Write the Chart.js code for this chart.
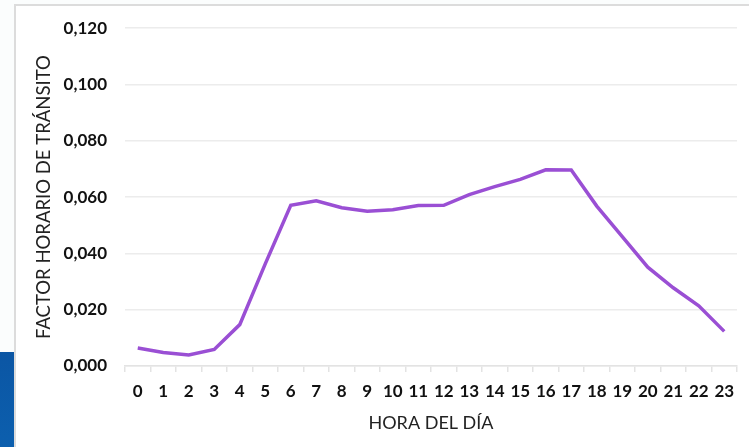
<!DOCTYPE html>
<html>
<head>
<meta charset="utf-8">
<script src="https://cdn.jsdelivr.net/npm/chart.js@4/dist/chart.umd.min.js"></script>
<style>
  html, body { margin: 0; padding: 0; background: #fff; }
  #wrap { position: relative; width: 749px; height: 447px; overflow: hidden; background: #fbfdfd; }
  /* marco del panel */
  #panel { position: absolute; left: 14px; top: 4px; width: 740px; height: 450px; background: #fff;
           border-top: 2px solid #dcdcdc; border-left: 2px solid #dcdcdc; }
  #azul { position: absolute; left: 0; top: 352px; width: 14px; height: 95px;
          background: linear-gradient(#0b56a4, #0c5fae); }
  #c { position: absolute; left: 0; top: 0; }
</style>
</head>
<body>
<div id="wrap">
  <div id="azul"></div>
  <div id="panel"></div>
  <canvas id="c" width="749" height="447"></canvas>
</div>
<script>
const horas = ['0','1','2','3','4','5','6','7','8','9','10','11','12','13','14','15','16','17','18','19','20','21','22','23'];
const factorHorario = [0.0064, 0.0048, 0.0039, 0.0059, 0.0147, 0.0363, 0.0571, 0.0587, 0.0562, 0.0550, 0.0555, 0.0570,
                       0.0571, 0.0609, 0.0637, 0.0663, 0.0697, 0.0696, 0.0568, 0.0460, 0.0351, 0.0278, 0.0214, 0.0123];
const ticksY = [0, 0.02, 0.04, 0.06, 0.08, 0.10, 0.12];

const fuente = 'Lato, "Open Sans", sans-serif';

new Chart(document.getElementById('c'), {
  type: 'line',
  data: {
    labels: horas,
    datasets: [{
      data: factorHorario,
      borderColor: '#9a4fd4',
      borderWidth: 3.5,
      pointRadius: 0,
      tension: 0,
      fill: false
    }]
  },
  options: {
    responsive: false,
    animation: false,
    layout: { padding: { left: 33, top: 24, right: 12, bottom: 8 } },
    plugins: { legend: { display: false }, tooltip: { enabled: false } },
    scales: {
      x: {
        offset: true,
        grid: { offset: true, drawOnChartArea: false, tickLength: 6, color: '#e3e3e3', lineWidth: 1.5 },
        border: { color: '#e3e3e3', width: 1.5 },
        ticks: { color: '#111', padding: 9, maxRotation: 0, autoSkip: false,
                 font: { family: fuente, size: 17, weight: 'bold' } },
        title: { display: true, text: 'HORA DEL DÍA', color: '#222',
                 font: { family: fuente, size: 18 }, padding: { top: 6, bottom: 5 } },
        afterFit: s => { s.height = 73; }
      },
      y: {
        min: 0, max: 0.12,
        afterBuildTicks: s => { s.ticks = ticksY.map(v => ({ value: v })); },
        grid: { drawTicks: false, color: '#ececec', lineWidth: 1.5 },
        border: { display: false },
        ticks: { color: '#111', padding: 18,
                 font: { family: fuente, size: 17, weight: 'bold' },
                 callback: v => v.toFixed(3).replace('.', ',') },
        title: { display: true, text: 'FACTOR HORARIO DE TRÁNSITO', color: '#222',
                 font: { family: fuente, size: 18.5 }, padding: { top: 0, bottom: 0 } },
        afterFit: s => { s.width = 92; }
      }
    }
  }
});
</script>
</body>
</html>
